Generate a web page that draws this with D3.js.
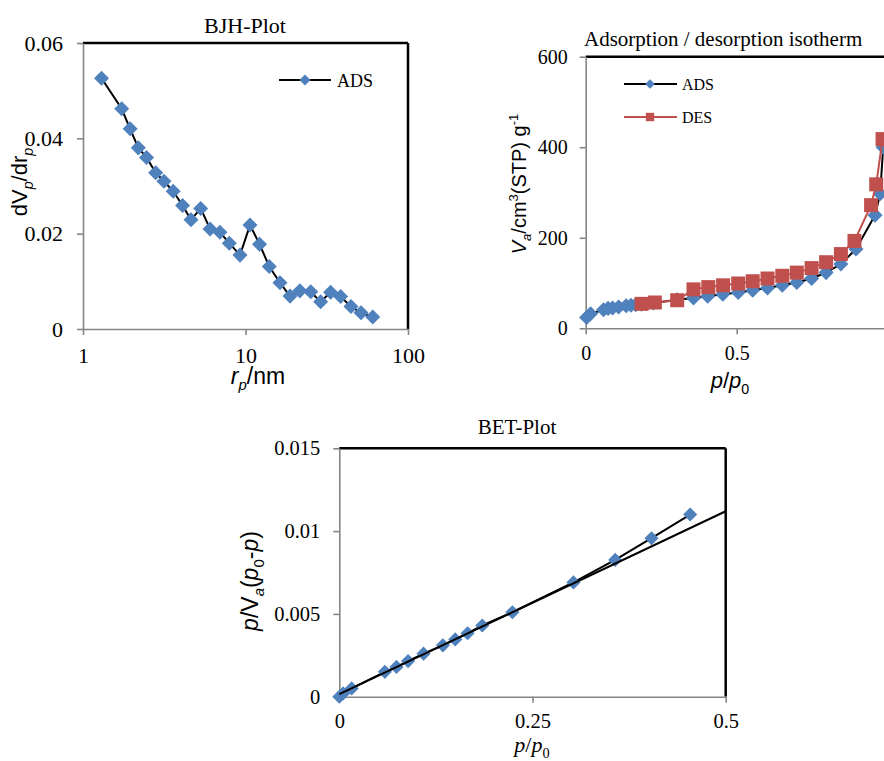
<!DOCTYPE html>
<meta charset="utf-8">
<title>BJH / isotherm / BET</title>
<script src="https://d3js.org/d3.v7.min.js"></script>
<style>
  body { margin: 0; background: #fff; }
  .tick text { font-family: "Liberation Serif", "Times New Roman", serif; fill: #000; }
  .axis path, .axis line { stroke: #858585; stroke-width: 1.6; }
</style>
<div id="chart"></div>
<script>

// BJH pore size distribution
var bjhR  = [1.30, 1.73, 1.95, 2.19, 2.46, 2.80, 3.15, 3.59, 4.10, 4.62, 5.30, 6.05, 6.96, 7.95, 9.25, 10.66, 12.2, 14.0, 16.3, 18.8, 21.6, 25.2, 29.0, 33.4, 38.5, 44.6, 51.4, 60.7];
var bjhDv = [0.0526, 0.0462, 0.0420, 0.0380, 0.0360, 0.0328, 0.0310, 0.0289, 0.0259, 0.0229, 0.0253, 0.0210, 0.0203, 0.0180, 0.0155, 0.0218, 0.0178, 0.0131, 0.0097, 0.0069, 0.0080, 0.0078, 0.0057, 0.0077, 0.0068, 0.0047, 0.0034, 0.0025];
var bjhXTicks = [1, 10, 100];
var bjhYTicks = [0, 0.02, 0.04, 0.06];

// adsorption / desorption isotherm (the p/p0 = 1 end falls just past the picture edge)
var adsP = [0.003, 0.016, 0.059, 0.074, 0.089, 0.109, 0.134, 0.150, 0.166, 0.185, 0.224, 0.303, 0.357, 0.404, 0.454, 0.505, 0.553, 0.602, 0.651, 0.699, 0.748, 0.796, 0.845, 0.895, 0.958, 0.975, 0.985];
var adsV = [24, 32, 41, 44, 45, 47, 50, 51, 52, 53, 56, 63, 67, 71, 75, 79, 84, 89, 95, 101, 110, 123, 142, 175, 250, 297, 400];
var desP = [0.185, 0.229, 0.303, 0.357, 0.406, 0.455, 0.505, 0.553, 0.602, 0.651, 0.699, 0.748, 0.796, 0.845, 0.890, 0.945, 0.962, 0.983];
var desV = [54, 57, 62, 86, 91, 95, 99, 104, 110, 116, 123, 133, 146, 164, 193, 272, 318, 418];
var isoXTicks = [0, 0.5];
var isoYTicks = [0, 200, 400, 600];

// BET plot
var betP = [0, 0.005, 0.016, 0.059, 0.074, 0.089, 0.109, 0.134, 0.150, 0.166, 0.185, 0.224, 0.303, 0.357, 0.404, 0.454];
var betY = [0.0000, 0.0002, 0.0005, 0.0015, 0.0018, 0.00215, 0.0026, 0.0031, 0.00346, 0.00383, 0.0043, 0.0051, 0.0069, 0.00826, 0.00957, 0.0110];
var trendP = [0, 0.5];
var trendY = [0.00015, 0.0112];
var betXTicks = [0, 0.25, 0.5];
var betYTicks = [0, 0.005, 0.01, 0.015];

var blue = "#4f81bd", red = "#c0504d";
var serif = "'Liberation Serif', 'Times New Roman', serif";
var sans = "'Liberation Sans', Arial, sans-serif";

var svg = d3.select("#chart")
  .append("svg")
    .attr("width", 884)
    .attr("height", 761)
    .style("display", "block");

svg.append("rect").attr("width", 884).attr("height", 761).attr("fill", "#fff");

// text with italic / sub / sup parts
function richText(g, parts, size, family) {
  var t = g.append("text")
    .attr("font-family", family || sans)
    .attr("font-size", size)
    .attr("text-anchor", "middle");
  var shift = 0;
  parts.forEach(function(p) {
    var s = t.append("tspan").text(p.t);
    var target = p.sub ? size * 0.25 : (p.sup ? -size * 0.4 : 0);
    if (target !== shift) { s.attr("dy", target - shift); shift = target; }
    if (p.sub || p.sup) s.attr("font-size", size * 0.65);
    if (p.i) s.attr("font-style", "italic");
  });
  return t;
}

function diamond(size) {
  return d3.symbol().type(d3.symbolSquare).size(size)();
}

function frame(x, y, right) {
  var x0 = x.range()[0], x1 = x.range()[1];
  var y0 = y.range()[0], y1 = y.range()[1];
  svg.append("line")
    .attr("x1", x0).attr("x2", x1).attr("y1", y1).attr("y2", y1)
    .attr("stroke", "#000").attr("stroke-width", 2.5);
  if (right) {
    svg.append("line")
      .attr("x1", x1).attr("x2", x1).attr("y1", y1).attr("y2", y0)
      .attr("stroke", "#000").attr("stroke-width", 2.5);
  }
}

function axes(x, y, xt, yt, fs, padX, padY) {
  svg.append("g")
    .attr("class", "axis")
    .attr("transform", "translate(0," + y.range()[0] + ")")
    .call(d3.axisBottom(x).tickValues(xt).tickFormat(String).tickSize(6).tickSizeOuter(0).tickPadding(padX))
    .call(function(g) { g.selectAll("text").attr("font-size", fs); });
  svg.append("g")
    .attr("class", "axis")
    .attr("transform", "translate(" + x.range()[0] + ",0)")
    .call(d3.axisLeft(y).tickValues(yt).tickFormat(String).tickSize(6).tickSizeOuter(0).tickPadding(padY))
    .call(function(g) { g.selectAll("text").attr("font-size", fs); });
}

// ---------- BJH-Plot ----------
var bx = d3.scaleLog().domain([1, 100]).range([83, 408]);
var by = d3.scaleLinear().domain([0, 0.06]).range([329, 43]);
var bjh = bjhR.map(function(r, i) { return [r, bjhDv[i]]; });

frame(bx, by, true);
axes(bx, by, bjhXTicks, bjhYTicks, 22, 12, 14);

svg.append("path")
  .datum(bjh)
  .attr("fill", "none").attr("stroke", "#000").attr("stroke-width", 2)
  .attr("d", d3.line().x(function(d) { return bx(d[0]); }).y(function(d) { return by(d[1]); }));

svg.selectAll("bjhdot")
  .data(bjh)
  .enter()
  .append("path")
    .attr("d", diamond(113))
    .attr("fill", blue)
    .attr("transform", function(d) { return "translate(" + bx(d[0]) + "," + by(d[1]) + ") rotate(45)"; });

svg.append("text")
  .attr("x", 245).attr("y", 33)
  .attr("text-anchor", "middle")
  .attr("font-family", serif).attr("font-size", 22)
  .text("BJH-Plot");

// legend
svg.append("line").attr("x1", 279).attr("x2", 331).attr("y1", 80).attr("y2", 80)
  .attr("stroke", "#000").attr("stroke-width", 2);
svg.append("path").attr("d", diamond(60)).attr("fill", blue)
  .attr("transform", "translate(305,80) rotate(45)");
svg.append("text").attr("x", 337).attr("y", 87)
  .attr("font-family", serif).attr("font-size", 18).text("ADS");

richText(svg.append("g").attr("transform", "translate(27,182) rotate(-90)"),
  [{t: "dV"}, {t: "p", i: true, sub: true}, {t: "/dr"}, {t: "p", i: true, sub: true}], 22);
richText(svg.append("g").attr("transform", "translate(258,384)"),
  [{t: "r", i: true}, {t: "p", i: true, sub: true}, {t: "/nm"}], 23);

// ---------- Adsorption / desorption isotherm ----------
var ix = d3.scaleLinear().domain([0, 1]).range([585.7, 887.7]);
var iy = d3.scaleLinear().domain([0, 600]).range([328.3, 56.7]);
var ads = adsP.map(function(p, i) { return [p, adsV[i]]; });
var des = desP.map(function(p, i) { return [p, desV[i]]; });
var iline = d3.line().x(function(d) { return ix(d[0]); }).y(function(d) { return iy(d[1]); });

frame(ix, iy, true);
axes(ix, iy, isoXTicks, isoYTicks, 20, 12, 12);

svg.append("path").datum(ads)
  .attr("fill", "none").attr("stroke", "#000").attr("stroke-width", 2)
  .attr("d", iline);
svg.selectAll("adsdot")
  .data(ads)
  .enter()
  .append("path")
    .attr("d", diamond(113))
    .attr("fill", blue)
    .attr("transform", function(d) { return "translate(" + ix(d[0]) + "," + iy(d[1]) + ") rotate(45)"; });

svg.append("path").datum(des)
  .attr("fill", "none").attr("stroke", red).attr("stroke-width", 2)
  .attr("d", iline);
svg.selectAll("desdot")
  .data(des)
  .enter()
  .append("path")
    .attr("d", d3.symbol().type(d3.symbolSquare).size(196)())
    .attr("fill", red)
    .attr("transform", function(d) { return "translate(" + ix(d[0]) + "," + iy(d[1]) + ")"; });

svg.append("text")
  .attr("x", 584).attr("y", 46)
  .attr("font-family", serif).attr("font-size", 21)
  .text("Adsorption / desorption isotherm");

// legend
svg.append("line").attr("x1", 624).attr("x2", 677).attr("y1", 84).attr("y2", 84)
  .attr("stroke", "#000").attr("stroke-width", 2);
svg.append("path").attr("d", diamond(45)).attr("fill", blue)
  .attr("transform", "translate(650,84) rotate(45)");
svg.append("text").attr("x", 682).attr("y", 90)
  .attr("font-family", serif).attr("font-size", 16).text("ADS");
svg.append("line").attr("x1", 624).attr("x2", 677).attr("y1", 117).attr("y2", 117)
  .attr("stroke", red).attr("stroke-width", 2);
svg.append("path").attr("d", d3.symbol().type(d3.symbolSquare).size(70)()).attr("fill", red)
  .attr("transform", "translate(650,117)");
svg.append("text").attr("x", 682).attr("y", 123)
  .attr("font-family", serif).attr("font-size", 16).text("DES");

richText(svg.append("g").attr("transform", "translate(526,184) rotate(-90)"),
  [{t: "V", i: true}, {t: "a", i: true, sub: true}, {t: "/cm"}, {t: "3", sup: true}, {t: "(STP) g"}, {t: "-1", sup: true}], 20);
richText(svg.append("g").attr("transform", "translate(730,388)"),
  [{t: "p", i: true}, {t: "/"}, {t: "p", i: true}, {t: "0", sub: true}], 22);

// ---------- BET-Plot ----------
var ex = d3.scaleLinear().domain([0, 0.5]).range([339.3, 725.7]);
var ey = d3.scaleLinear().domain([0, 0.015]).range([696.7, 448.3]);
var bet = betP.map(function(p, i) { return [p, betY[i]]; });
var trend = trendP.map(function(p, i) { return [p, trendY[i]]; });
var eline = d3.line().x(function(d) { return ex(d[0]); }).y(function(d) { return ey(d[1]); });

frame(ex, ey, true);
axes(ex, ey, betXTicks, betYTicks, 20.5, 11, 13);

svg.append("path").datum(bet)
  .attr("fill", "none").attr("stroke", "#000").attr("stroke-width", 2)
  .attr("d", eline);
svg.selectAll("betdot")
  .data(bet)
  .enter()
  .append("path")
    .attr("d", diamond(100))
    .attr("fill", blue)
    .attr("transform", function(d) { return "translate(" + ex(d[0]) + "," + ey(d[1]) + ") rotate(45)"; });
svg.append("path").datum(trend)
  .attr("fill", "none").attr("stroke", "#000").attr("stroke-width", 2)
  .attr("d", eline);

svg.append("text")
  .attr("x", 517).attr("y", 434)
  .attr("text-anchor", "middle")
  .attr("font-family", serif).attr("font-size", 21)
  .text("BET-Plot");

richText(svg.append("g").attr("transform", "translate(258,581) rotate(-90)"),
  [{t: "p", i: true}, {t: "/V"}, {t: "a", i: true, sub: true}, {t: "("}, {t: "p", i: true}, {t: "0", sub: true}, {t: "-"}, {t: "p", i: true}, {t: ")"}], 23);
richText(svg.append("g").attr("transform", "translate(532,752)"),
  [{t: "p", i: true}, {t: "/"}, {t: "p", i: true}, {t: "0", sub: true}], 22, serif);

</script>
